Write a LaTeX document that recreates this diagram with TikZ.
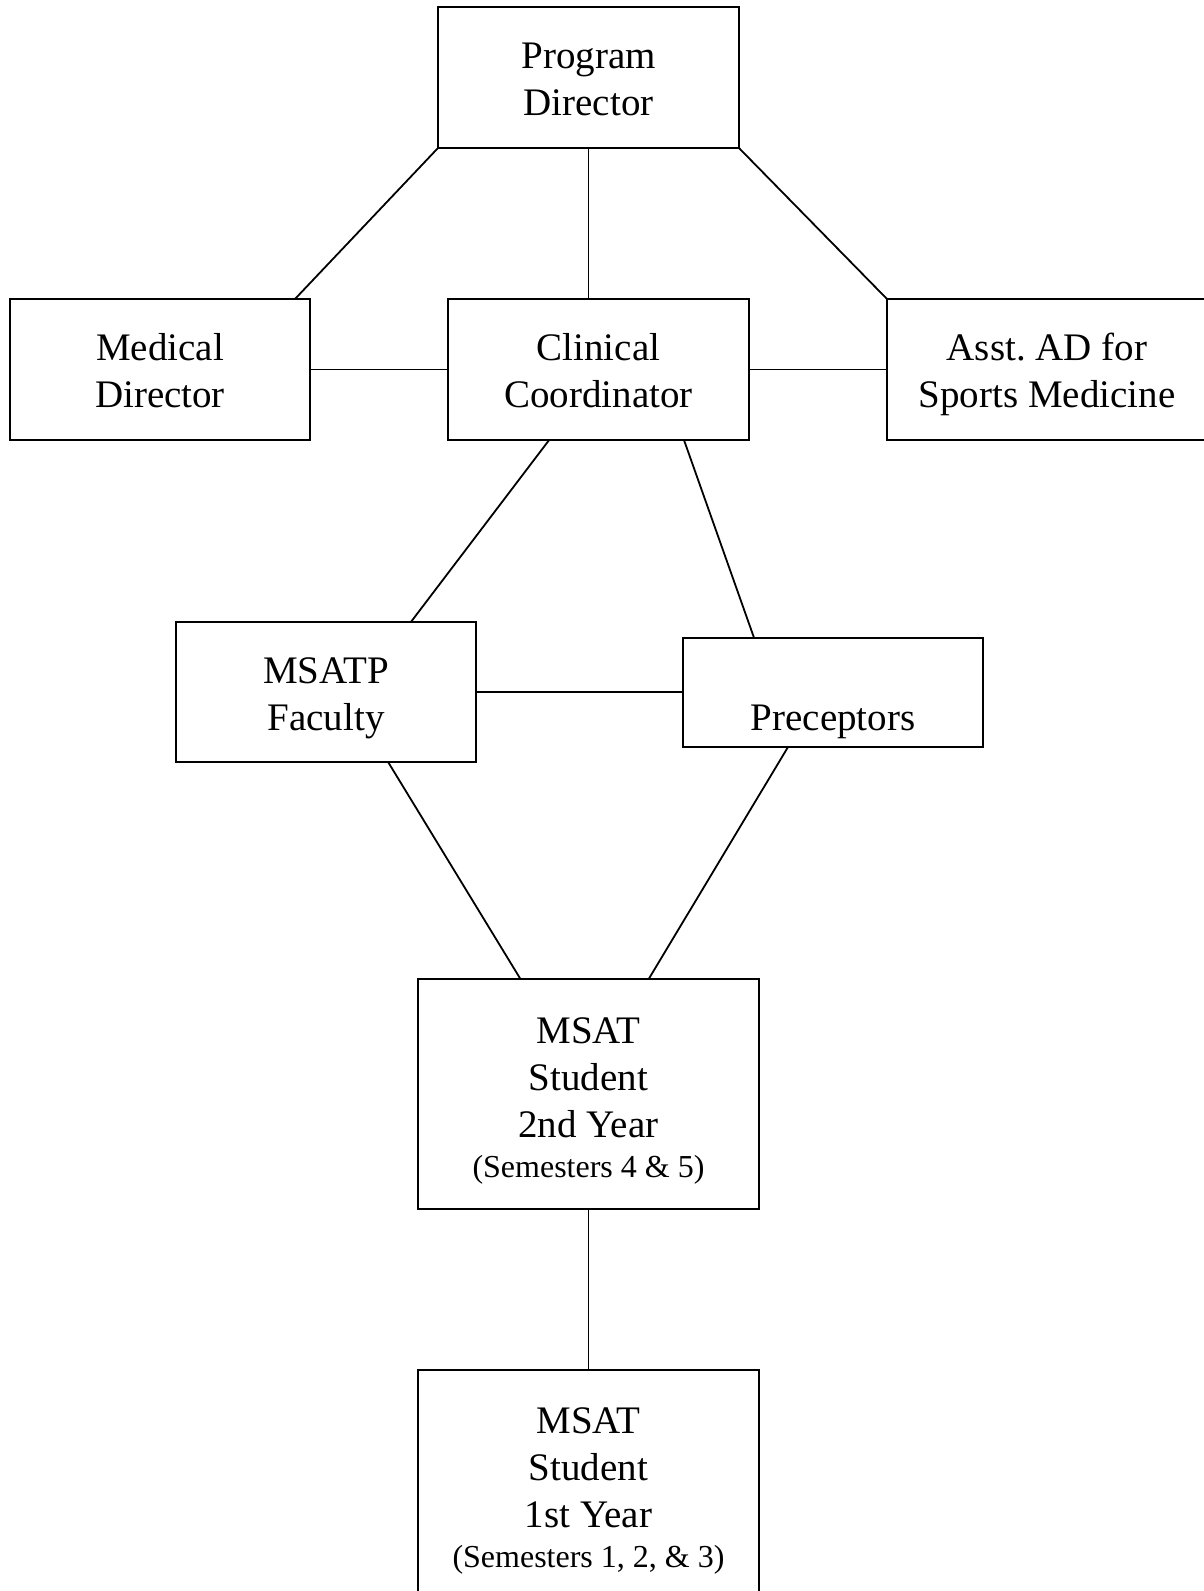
\documentclass[tikz,border=0pt]{standalone}
\usepackage{fontspec}
\setmainfont{Liberation Serif}
\usepackage{tikz}
\usetikzlibrary{calc}
\newcommand{\semsize}{\fontsize{16}{20}\selectfont}

\begin{document}
\begin{tikzpicture}[x=0.5pt, y=-0.5pt,
  onode/.style={draw, line width=1pt, inner sep=0pt, outer sep=0pt, align=center,
    font={\fontsize{19.5}{23.5}\selectfont}, text height=37.5pt, text depth=0pt,
    minimum width=150pt, minimum height=70.5pt},
  lnk/.style={line width=0.9pt}
]
  \useasboundingbox (0,0) rectangle (1204,1591);
  \clip (0,0) rectangle (1204,1591);
  % top
  \node[onode, minimum width=150.5pt] (PD) at (588.5,77.5) {Program\\Director};
  % second row
  \node[onode] (MD) at (160,369.5) {Medical\\Director};
  \node[onode, minimum width=150.5pt] (CC) at (598.5,369.5) {Clinical\\Coordinator};
  \node[onode, minimum width=160pt] (AD) at (1047,369.5) {Asst.\ AD for\\Sports Medicine};
  % third row
  \node[onode, minimum height=70pt, text height=38.5pt] (FAC) at (326,692) {MSATP\\Faculty};
  \node[onode, minimum height=54.5pt] (PRE) at (833,692.5) {Preceptors};
  % students
  \node[onode, minimum width=170.5pt, minimum height=115.25pt, text height=83pt] (Y2) at (588.5,1094)
    {MSAT\\Student\\2nd Year\\[-3.5pt]{\semsize (Semesters 4 \& 5)}};
  \node[onode, minimum width=170.5pt, minimum height=115.25pt, text height=82.5pt] (Y1) at (588.5,1484.75)
    {MSAT\\Student\\1st Year\\[-3.5pt]{\semsize (Semesters 1, 2, \& 3)}};

  \draw[lnk] (PD.south west) -- ($(MD.north west)!0.95!(MD.north east)$);
  \draw[lnk] (PD.south) -- (PD.south |- CC.north);
  \draw[lnk] (PD.south east) -- (AD.north west);
  \draw[lnk] (MD.east) -- (CC.west);
  \draw[lnk] (CC.east) -- (AD.west);
  \draw[lnk] ($(CC.south west)!0.336!(CC.south east)$) -- ($(FAC.north west)!0.783!(FAC.north east)$);
  \draw[lnk] ($(CC.south west)!0.784!(CC.south east)$) -- ($(PRE.north west)!0.237!(PRE.north east)$);
  \draw[lnk] (FAC.east) -- (FAC.east -| PRE.west);
  \draw[lnk] ($(FAC.south west)!0.707!(FAC.south east)$) -- ($(Y2.north west)!0.3!(Y2.north east)$);
  \draw[lnk] ($(PRE.south west)!0.35!(PRE.south east)$) -- ($(Y2.north west)!0.677!(Y2.north east)$);
  \draw[lnk] (Y2.south) -- (Y1.north);
\end{tikzpicture}
\end{document}
